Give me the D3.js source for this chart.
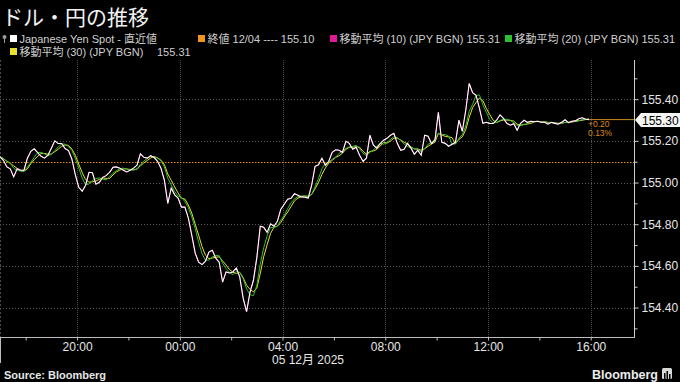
<!DOCTYPE html>
<html><head><meta charset="utf-8">
<script src="https://cdn.jsdelivr.net/npm/d3@7"></script>
<style>
html,body{margin:0;padding:0;background:#000;}
svg{display:block;}
</style></head>
<body>
<svg id="chart" width="680" height="382"></svg>
<script>
// ---------------- data ----------------
const title = "ドル・円の推移";
const startTime = [2025, 11, 4, 17, 0];   // 4 Dec 2025 17:00
const endTime = [2025, 11, 5, 17, 41];    // right edge of plot
const stepMinutes = 8;
const spot = [
155.123,155.107,155.075,155.066,155.027,155.066,155.059,155.059,155.117,155.150,
155.162,155.143,155.126,155.117,155.131,155.165,155.200,155.187,155.187,155.163,
155.153,155.112,155.037,154.977,154.958,154.987,155.049,155.047,154.992,155.001,
155.025,155.033,155.049,155.073,155.075,155.069,155.059,155.051,155.059,155.069,
155.083,155.138,155.121,155.117,155.129,155.120,155.102,155.069,155.011,154.900,
154.973,154.941,154.925,154.882,154.882,154.829,154.747,154.661,154.618,154.606,
154.623,154.666,154.675,154.637,154.618,154.522,154.571,154.566,154.571,154.590,
154.547,154.445,154.380,154.474,154.531,154.641,154.790,154.785,154.761,154.802,
154.790,154.814,154.872,154.896,154.920,154.925,154.947,154.939,154.931,154.929,
154.925,154.987,155.078,155.085,155.117,155.083,155.102,155.145,155.157,155.155,
155.145,155.198,155.188,155.160,155.169,155.131,155.102,155.117,155.227,155.180,
155.165,155.186,155.203,155.212,155.227,155.236,155.188,155.155,155.160,155.188,
155.165,155.136,155.155,155.131,155.227,155.222,155.187,155.203,155.337,155.193,
155.188,155.174,155.184,155.193,155.299,155.246,155.347,155.475,155.431,155.419,
155.356,155.284,155.289,155.284,155.283,155.299,155.325,155.308,155.284,155.275,
155.282,155.251,155.284,155.299,155.289,155.294,155.292,155.294,155.289,155.289,
155.280,155.289,155.284,155.280,155.289,155.301,155.287,155.294,155.296,155.306,
155.311,155.304,155.302
];
const maPeriods = [10, 20, 30];          // periods in 1-minute bars
const lastClose = 155.10;
const lastCloseDate = "12/04";
const maLegendValues = ["155.31", "155.31", "155.31"];
const lastValueLabel = "155.30";
const changeAbs = "+0.20";
const changePct = "0.13%";
const yTickValues = [154.4, 154.6, 154.8, 155.0, 155.2, 155.4];
const yMinorTickValues = [154.3, 154.5, 154.7, 154.9, 155.1, 155.5];
const xTickLabels = ["20:00", "00:00", "04:00", "08:00", "12:00", "16:00"];
const xMinorTickLabels = ["18:00", "22:00", "02:00", "06:00", "10:00", "14:00"];
const dateLabel = "05 12月 2025";
const sourceText = "Source: Bloomberg";

// ---------------- setup ----------------
const W = 680, H = 382;
const plot = {left: 0, right: 634, top: 60, bottom: 337};
const svg = d3.select("#chart");
const latin = "'Liberation Sans','Noto Sans CJK JP',sans-serif";
const cjk = "'Noto Sans CJK JP','Liberation Sans',sans-serif";

const t0 = new Date(...startTime);
const t1 = new Date(...endTime);
const times = spot.map((_, i) => new Date(t0.getTime() + i * stepMinutes * 60000));
const parseLabel = s => {
  const [h, m] = s.split(":").map(Number);
  const d = new Date(t0); d.setHours(h, m, 0, 0);
  if (h < 17) d.setDate(d.getDate() + 1);
  return d;
};

const x = d3.scaleTime().domain([t0, t1]).range([plot.left, plot.right]);
const y = d3.scaleLinear().domain([154.2635, 155.588]).range([plot.bottom - 1, plot.top]);

// moving averages (trailing, period converted from 1-minute bars to data step)
function movingAvg(vals, period) {
  const w = Math.max(1, Math.round(period / stepMinutes) + (period >= 20 ? 1 : 0));
  return vals.map((_, i) => {
    const s = vals.slice(Math.max(0, i - w + 1), i + 1);
    return d3.mean(s);
  });
}
const ma = maPeriods.map(p => movingAvg(spot, p));

// ---------------- grid ----------------
const grid = svg.append("g");
grid.selectAll("line.h").data(yTickValues).join("line")
  .attr("x1", plot.left).attr("x2", plot.right)
  .attr("y1", d => Math.round(y(d)) + 0.5).attr("y2", d => Math.round(y(d)) + 0.5)
  .attr("stroke", "#5a5a5a").attr("stroke-width", 1).attr("stroke-dasharray", "1,2");
grid.selectAll("line.v").data(xTickLabels.map(parseLabel)).join("line")
  .attr("x1", d => Math.round(x(d)) + 0.5).attr("x2", d => Math.round(x(d)) + 0.5)
  .attr("y1", plot.top).attr("y2", plot.bottom)
  .attr("stroke", "#4a4a4a").attr("stroke-width", 1).attr("stroke-dasharray", "1,1");
grid.append("line").attr("x1", 0.5).attr("x2", 0.5).attr("y1", plot.top).attr("y2", plot.bottom)
  .attr("stroke", "#4a4a4a").attr("stroke-dasharray", "2,2");

// last close dotted line
svg.append("line")
  .attr("x1", plot.left).attr("x2", plot.right)
  .attr("y1", Math.round(y(lastClose)) + 0.5).attr("y2", Math.round(y(lastClose)) + 0.5)
  .attr("stroke", "#e08a12").attr("stroke-width", 1).attr("stroke-dasharray", "1.5,1.5");

// ---------------- lines ----------------
svg.append("clipPath").attr("id", "clip").append("rect")
  .attr("x", plot.left).attr("y", plot.top).attr("width", plot.right - plot.left).attr("height", plot.bottom - plot.top);
const lines = svg.append("g").attr("clip-path", "url(#clip)");
const lineGen = d3.line().x((d, i) => x(times[i])).y(d => y(d));
const maColors = ["#e0189a", "#2fbf2f", "#e8e030"];
[2, 1, 0].forEach(k => {
  lines.append("path").datum(ma[k]).attr("d", lineGen)
    .attr("fill", "none").attr("stroke", maColors[k]).attr("stroke-width", 1);
});
lines.append("path").datum(spot).attr("d", lineGen)
  .attr("fill", "none").attr("stroke", "#ffffff").attr("stroke-width", 1.1);

// last value line to axis
const lastY = y(spot[spot.length - 1]);
svg.append("line")
  .attr("x1", x(times[times.length - 1])).attr("x2", plot.right)
  .attr("y1", lastY).attr("y2", lastY)
  .attr("stroke", "#c98a1e").attr("stroke-width", 1);
svg.append("text").attr("x", x(times[times.length - 1]) - 1).attr("y", lastY + 7.5)
  .attr("font-family", latin).attr("font-size", 8.5).attr("fill", "#d98a1a").text(changeAbs);
svg.append("text").attr("x", x(times[times.length - 1]) - 1).attr("y", lastY + 16.5)
  .attr("font-family", latin).attr("font-size", 8.5).attr("fill", "#d98a1a").text(changePct);

// ---------------- axes ----------------
const yAxis = d3.axisRight(y).tickValues(yTickValues).tickFormat(d3.format(".2f")).tickSize(4).tickPadding(3);
const ya = svg.append("g").attr("transform", `translate(${plot.right + 0.5},0)`).call(yAxis);
ya.select(".domain").attr("stroke", "#cfcfcf").attr("d", `M0,${plot.top}V${plot.bottom + 1}`);
ya.selectAll(".tick line").attr("stroke", "#cfcfcf");
ya.selectAll(".tick text").attr("fill", "#e6e6e6").attr("font-family", latin).attr("font-size", 12);
const yMinor = d3.axisRight(y).tickValues(yMinorTickValues).tickFormat("").tickSize(3);
const ym = svg.append("g").attr("transform", `translate(${plot.right + 0.5},0)`).call(yMinor);
ym.select(".domain").remove();
ym.selectAll(".tick line").attr("stroke", "#cfcfcf");

// last value box
const by = Math.round(lastY);
svg.append("path")
  .attr("d", `M${plot.right + 1},${by} L${plot.right + 7},${by - 7} H${W} V${by + 7} H${plot.right + 7} Z`)
  .attr("fill", "#f4f4f4");
svg.append("text").attr("x", plot.right + 8).attr("y", by + 4.5)
  .attr("font-family", latin).attr("font-size", 12).attr("fill", "#000").text(lastValueLabel);

const xAxis = d3.axisBottom(x).tickValues(xTickLabels.map(parseLabel))
  .tickFormat(d3.timeFormat("%H:%M")).tickSize(3).tickPadding(2);
const xa = svg.append("g").attr("transform", `translate(0,${plot.bottom + 0.5})`).call(xAxis);
xa.select(".domain").attr("stroke", "#bdbdbd").attr("d", `M${plot.left},0H${plot.right + 1}`);
xa.selectAll(".tick line").attr("stroke", "#bdbdbd");
xa.selectAll(".tick text").attr("fill", "#e6e6e6").attr("font-family", latin).attr("font-size", 12);
const xMinor = d3.axisBottom(x).tickValues(xMinorTickLabels.map(parseLabel)).tickFormat("").tickSize(3);
const xm = svg.append("g").attr("transform", `translate(0,${plot.bottom + 0.5})`).call(xMinor);
xm.select(".domain").remove();
xm.selectAll(".tick line").attr("stroke", "#bdbdbd");
svg.append("line").attr("x1", 0.5).attr("x2", 0.5).attr("y1", plot.bottom).attr("y2", 363)
  .attr("stroke", "#bdbdbd");

svg.append("text").attr("x", 308).attr("y", 364).attr("text-anchor", "middle")
  .attr("font-family", latin).attr("font-size", 12).attr("fill", "#e6e6e6").text(dateLabel);

// ---------------- title & legend ----------------
svg.append("text").attr("x", 2).attr("y", 24.5)
  .attr("font-family", cjk).attr("font-size", 21).attr("fill", "#f2f2f2").text(title);

const legendItems = [
  {x: 10, y: 39, color: "#ffffff", text: "Japanese Yen Spot - 直近値"},
  {x: 198, y: 39, color: "#f0961e", text: `終値 ${lastCloseDate} ---- ${lastClose.toFixed(2)}`},
  {x: 330, y: 39, color: maColors[0], text: `移動平均 (${maPeriods[0]}) (JPY BGN) ${maLegendValues[0]}`},
  {x: 505, y: 39, color: maColors[1], text: `移動平均 (${maPeriods[1]}) (JPY BGN) ${maLegendValues[1]}`},
  {x: 10, y: 52, color: maColors[2], text: `移動平均 (${maPeriods[2]}) (JPY BGN)`}
];
const lg = svg.append("g");
legendItems.forEach(it => {
  lg.append("rect").attr("x", it.x).attr("y", it.y - 4).attr("width", 7).attr("height", 7).attr("fill", it.color);
  lg.append("text").attr("x", it.x + 9.5).attr("y", it.y + 3.5)
    .attr("font-family", latin).attr("font-size", 11).attr("fill", "#cfcfcf").text(it.text);
});
lg.append("text").attr("x", 157).attr("y", 55.5)
  .attr("font-family", latin).attr("font-size", 11).attr("fill", "#cfcfcf").text(maLegendValues[2]);
// pin icon
lg.append("circle").attr("cx", 4.5).attr("cy", 37).attr("r", 2).attr("fill", "#9a9a9a");
lg.append("line").attr("x1", 4.5).attr("x2", 4.5).attr("y1", 38).attr("y2", 43).attr("stroke", "#9a9a9a");

// ---------------- footer ----------------
svg.append("text").attr("x", 4).attr("y", 379)
  .attr("font-family", latin).attr("font-size", 11).attr("font-weight", "bold").attr("fill", "#e6e6e6").text(sourceText);
svg.append("text").attr("x", 658).attr("y", 379).attr("text-anchor", "end")
  .attr("font-family", latin).attr("font-size", 12.5).attr("font-weight", "bold").attr("fill", "#ececec").text("Bloomberg");
const logo = svg.append("g").attr("transform", "translate(662,368)");
logo.append("rect").attr("width", 10).attr("height", 11).attr("rx", 1.5).attr("fill", "#d8d8d8");
[[2, 5, 6], [4.5, 3, 8], [7, 6, 5]].forEach(([bx, byy, bh]) =>
  logo.append("rect").attr("x", bx).attr("y", byy).attr("width", 1.5).attr("height", bh).attr("fill", "#000"));
</script>
</body></html>
